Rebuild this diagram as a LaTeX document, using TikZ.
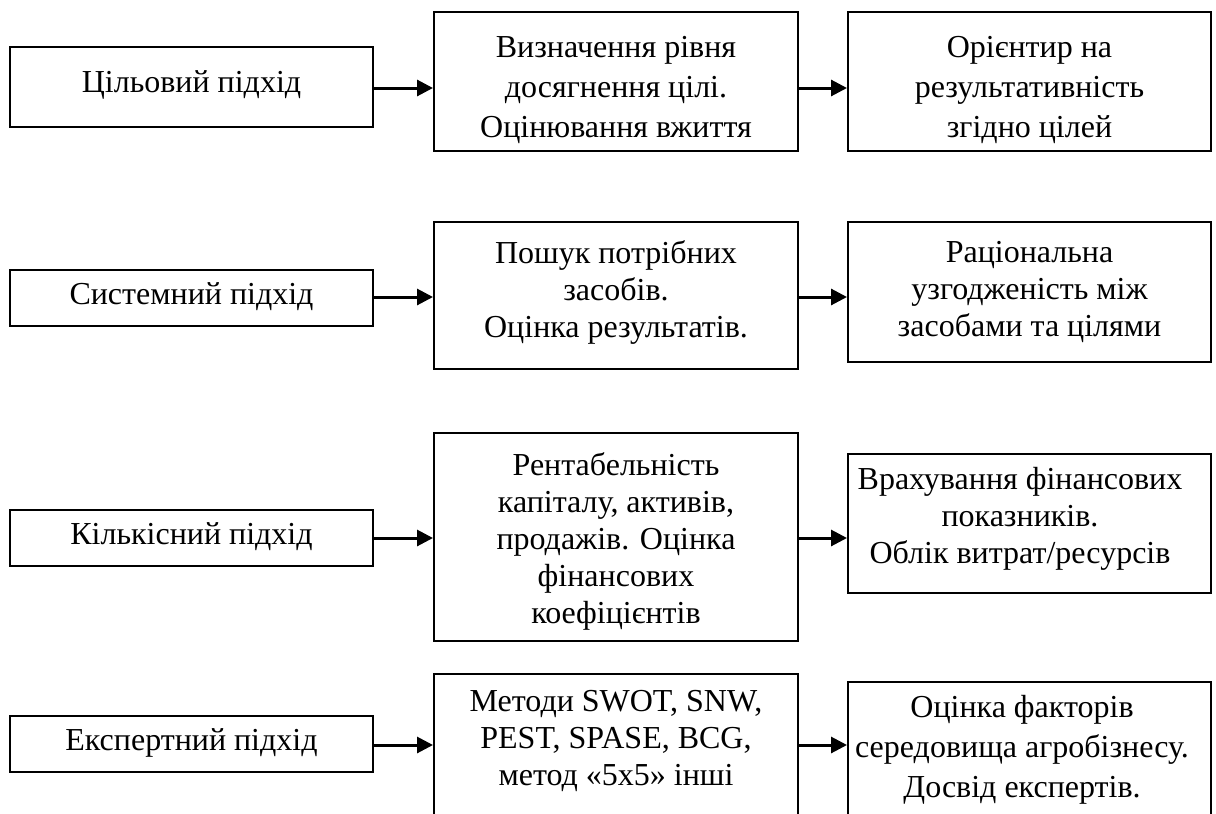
\documentclass[tikz,border=0pt]{standalone}
\usepackage{fontspec}
\setmainfont{Liberation Serif}
\usetikzlibrary{arrows.meta}
\begin{document}
\begin{tikzpicture}[x=1pt,y=-1pt,
  box/.style={draw, line width=2pt, inner sep=0pt},
  btxt/.style={align=center, inner sep=0pt, font=\fontsize{32}{37}\selectfont},
  wtxt/.style={align=center, inner sep=0pt, font=\fontsize{32}{40}\selectfont},
  conn/.style={line width=3pt, -{Triangle[length=16pt,width=16pt]}}]
\useasboundingbox (0,0) rectangle (1216,814);
\clip (0,0) rectangle (1216,814);
\fill[white] (0,0) rectangle (1216,814);
% row 1
\node[box, minimum width=363pt, minimum height=80pt] (a1) at (191.5,87) {};
\node[btxt] (a1t) at (191.5,85) {Цільовий підхід};
\node[box, minimum width=364pt, minimum height=139pt] (b1) at (616,81.5) {};
\node[wtxt] (b1t) at (616,90) {Визначення рівня\\досягнення цілі.\\Оцінювання вжиття};
\node[box, minimum width=363pt, minimum height=139pt] (c1) at (1029.5,81.5) {};
\node[wtxt] (c1t) at (1029.5,90) {Орієнтир на\\результативність\\згідно цілей};
% row 2
\node[box, minimum width=363pt, minimum height=56pt] (a2) at (191.5,298) {};
\node[btxt] (a2t) at (191.5,297) {Системний підхід};
\node[box, minimum width=364pt, minimum height=147pt] (b2) at (616,295.5) {};
\node[btxt] (b2t) at (616,292) {Пошук потрібних\\засобів.\\Оцінка результатів.};
\node[box, minimum width=363pt, minimum height=140pt] (c2) at (1029.5,292) {};
\node[btxt] (c2t) at (1029.5,292) {Раціональна\\узгодженість між\\засобами та цілями};
% row 3
\node[box, minimum width=363pt, minimum height=56pt] (a3) at (191.5,538) {};
\node[btxt] (a3t) at (191.5,537) {Кількісний підхід};
\node[box, minimum width=364pt, minimum height=208pt] (b3) at (616,537) {};
\node[btxt] (b3t) at (616,541) {Рентабельність\\капіталу, активів,\\продажів. Оцінка\\фінансових\\коефіцієнтів};
\node[box, minimum width=363pt, minimum height=139pt] (c3) at (1029.5,523.5) {};
\node[btxt] (c3t) at (1020,519) {Врахування фінансових\\показників.\\Облік витрат/ресурсів};
% row 4
\node[box, minimum width=363pt, minimum height=56pt] (a4) at (191.5,744) {};
\node[btxt] (a4t) at (191.5,743) {Експертний підхід};
\node[box, minimum width=364pt, minimum height=200pt, anchor=north] (b4) at (616,673) {};
\node[btxt] (b4t) at (616,741) {Методи SWOT, SNW,\\PEST, SPASE, BCG,\\метод «5x5» інші};
\node[box, minimum width=363pt, minimum height=200pt, anchor=north] (c4) at (1029.5,681) {};
\node[wtxt] (c4t) at (1022,750) {Оцінка факторів\\середовища агробізнесу.\\Досвід експертів.};
% connectors
\draw[conn] ([yshift=-1pt]a1.east) -- ([yshift=-1pt]a1.east -| b1.west);
\draw[conn] ([yshift=-1pt]a1.east -| b1.east) -- ([yshift=-1pt]a1.east -| c1.west);
\draw[conn] ([yshift=1pt]a2.east) -- ([yshift=1pt]a2.east -| b2.west);
\draw[conn] ([yshift=1pt]a2.east -| b2.east) -- ([yshift=1pt]a2.east -| c2.west);
\draw[conn] (a3.east) -- (a3.east -| b3.west);
\draw[conn] (a3.east -| b3.east) -- (a3.east -| c3.west);
\draw[conn] ([yshift=-1pt]a4.east) -- ([yshift=-1pt]a4.east -| b4.west);
\draw[conn] ([yshift=-1pt]a4.east -| b4.east) -- ([yshift=-1pt]a4.east -| c4.west);
\end{tikzpicture}
\end{document}
